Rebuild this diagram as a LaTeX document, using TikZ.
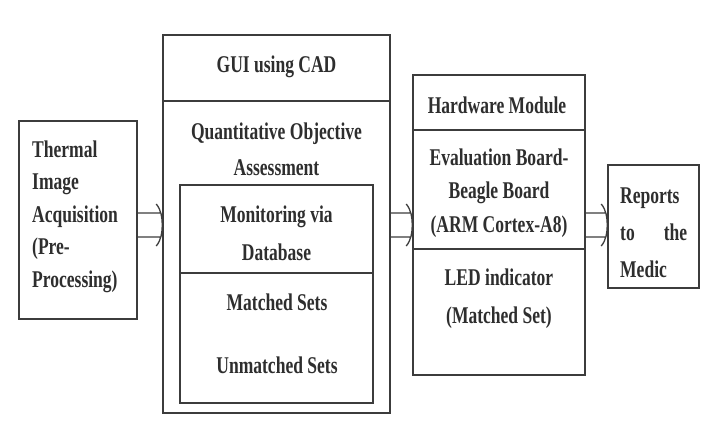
\documentclass[tikz,border=0pt]{standalone}
\usepackage{fontspec}
\newfontfamily\diagfont{Liberation Serif}[FakeStretch=0.73]
\usetikzlibrary{calc}
\definecolor{ink}{HTML}{2E2E2E}
\definecolor{edge}{HTML}{3C3C3C}
\begin{document}
\begin{tikzpicture}[x=1pt,y=-1pt,
  box/.style={draw=edge, line width=1.5pt, inner sep=0pt},
  txt/.style={font={\diagfont\bfseries\fontsize{24}{#1}\selectfont}, text=ink, inner sep=0pt},
  txt/.default=37,
  dbl/.style={draw=edge, line width=1.3pt, to path={let \p1=(\tikztostart), \p2=(\tikztotarget) in
    (\x1,\y1+12pt) -- (\x2-2pt,\y1+12pt)
    (\x1,\y1-12pt) -- (\x2-2pt,\y1-12pt)
    (\x2-6pt,\y1+21pt) .. controls (\x2-1pt,\y1+15pt) and (\x2,\y1+7pt) .. (\x2,\y1)
    .. controls (\x2,\y1-7pt) and (\x2-1pt,\y1-15pt) .. (\x2-6pt,\y1-21pt)}}
  ]
\fill[white] (0,0) rectangle (705,432);
\useasboundingbox (0,0) rectangle (705,432);

% boxes
\node[box, minimum width=118pt, minimum height=198pt] (acq) at (78,220) {};
\node[box, minimum width=227pt, minimum height=66pt] (guit) at (276.5,68) {};
\node[box, minimum width=227pt, minimum height=312pt] (guib) at (276.5,257) {};
\node[box, minimum width=193pt, minimum height=88pt] (mon) at (276.5,229) {};
\node[box, minimum width=193pt, minimum height=130pt] (sets) at (276.5,338) {};
\node[box, minimum width=172pt, minimum height=55pt] (hwt) at (499,102.5) {};
\node[box, minimum width=172pt, minimum height=119pt] (hwe) at (499,189.5) {};
\node[box, minimum width=172pt, minimum height=126pt] (hwl) at (499,312) {};
\node[box, minimum width=91pt, minimum height=123pt] (rep) at (653.5,226.5) {};

% texts (multi-line nodes anchored at the baseline of their last line)
\node[txt=32.5, align=left, anchor=base west] (acqT) at (32,287) {Thermal\\Image\\Acquisition\\(Pre-\\Processing)};
\node[txt, anchor=base] (guiT) at (276.5,72) {GUI using CAD};
\node[txt=36, align=center, anchor=base] (qoaT) at (276.5,175) {Quantitative Objective\\Assessment};
\node[txt=38, align=center, anchor=base] (monT) at (276.5,260) {Monitoring via\\Database};
\node[txt, anchor=base] (msT) at (277,310) {Matched Sets};
\node[txt, anchor=base] (usT) at (277,373) {Unmatched Sets};
\node[txt, anchor=base] (hwT) at (497,113) {Hardware Module};
\node[txt=33.5, align=center, anchor=base] (evT) at (499,232) {Evaluation Board-\\Beagle Board\\(ARM Cortex-A8)};
\node[txt=38, align=center, anchor=base] (ledT) at (499,323) {LED indicator\\(Matched Set)};
\node[txt=37, align=left, anchor=base west] (repT) at (620,277) {Reports\\\makebox[67pt][s]{to the}\\Medic};

% connectors
\coordinate (lvl) at (0,225);
\draw[dbl] (acq.east |- lvl) to (guib.west);
\draw[dbl] (guib.east |- lvl) to (hwe.west);
\draw[dbl] (hwe.east |- lvl) to (rep.west);
\end{tikzpicture}
\end{document}
